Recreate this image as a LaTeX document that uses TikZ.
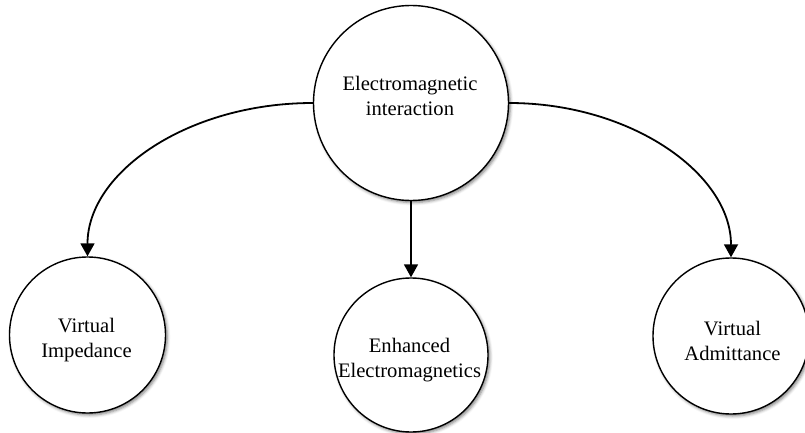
\documentclass[tikz,border=0pt]{standalone}
\usepackage{fontspec}
\setmainfont{Liberation Serif}
\usetikzlibrary{arrows.meta,shadows.blur}

\begin{document}
\begin{tikzpicture}[x=1pt,y=-1pt,
  bubble/.style={circle,draw=black,line width=1.4pt,fill=white,inner sep=0pt,
    blur shadow={shadow xshift=1.8pt,shadow yshift=-2pt,shadow blur radius=3pt,shadow opacity=50}},
  caption/.style={align=center,inner sep=0pt,font=\fontsize{20.6}{25.5}\selectfont},
  link/.style={line width=1.8pt,-{Triangle[width=14pt,length=13pt]}}]
  \useasboundingbox (0,0) rectangle (805,433);

  % circles
  \node[bubble,minimum size=195pt] (em)  at (411,103) {};
  \node[bubble,minimum size=156pt] (vi)  at (87.5,335) {};
  \node[bubble,minimum size=154pt] (ee)  at (411,355) {};
  \node[bubble,minimum size=156pt] (va)  at (731,336) {};

  % labels
  \node[caption] (emt) at (410,96)  {Electromagnetic\\interaction};
  \node[caption] (vit) at (86.5,340) {Virtual\\Impedance};
  \node[caption] (eet) at (409.5,360) {Enhanced\\Electromagnetics};
  \node[caption] (vat) at (732.5,341) {Virtual\\Admittance};

  % connectors
  \draw[link] (em.west) .. controls +(-125,0) and +(0,-84) .. (vi.north);
  \draw[link] (em.east) .. controls +(121,0) and +(0,-84) .. (va.north);
  \draw[link] (em.south) -- (ee.north);
\end{tikzpicture}
\end{document}
